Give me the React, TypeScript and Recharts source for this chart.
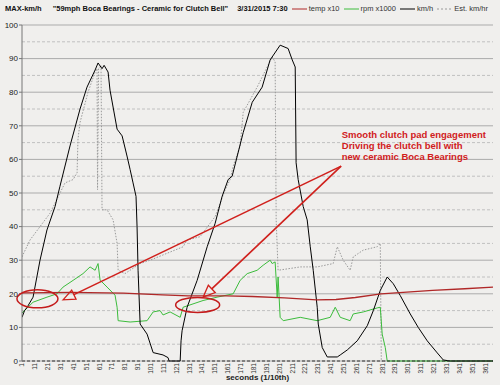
import React from 'react';
import {
  LineChart,
  Line,
  XAxis,
  YAxis,
  CartesianGrid,
  ReferenceLine,
  ReferenceDot,
} from 'recharts';

// sample index (1/10 s) and value for each trace
const kmhX = [1, 3, 5, 9.6, 15, 20.4, 26.7, 30.5, 38.3, 46.1, 51.5, 57.8, 60.1, 63.2, 64.8, 67.9, 69.4, 74.9, 78.8, 82.6, 85, 87.3, 89.6, 90.4, 91.2, 92.8, 98.2, 102.9, 110.6, 114.5, 115.3, 123.9, 124.6, 125.4, 129.3, 137.1, 144.9, 151.1, 156.5, 161.2, 164.3, 172.9, 179.9, 187.6, 193.8, 201.6, 207.8, 211, 213.3, 214, 215.6, 219.5, 222.6, 225, 227.3, 230.4, 231.2, 234.3, 238.2, 246, 248.3, 253.8, 261.5, 269.3, 274, 279.4, 284.8, 289.5, 294.9, 302.7, 308.9, 315.9, 323.7, 328.4, 333.8, 367];
const kmhY = [13, 15, 16, 19, 30, 39, 46, 52, 64, 75, 81.5, 86.6, 88.7, 87, 88, 86, 80.6, 69, 67, 61, 57, 53, 49, 40, 27, 11, 8, 2.5, 1.8, 1, 0, 0, 6, 9, 16, 24, 34, 41, 49, 54, 55, 68, 77, 81.5, 89.6, 94, 93, 89.6, 87.5, 59, 54, 46, 42, 34, 27, 16, 11, 4, 1.2, 1.2, 1.8, 3.3, 6, 10.5, 15, 21, 25, 23, 19.5, 14, 10, 6, 2.4, 0.3, 0, 0];

const estX = [1, 7.2, 22.8, 34.4, 40.7, 43.8, 44.5, 46.1, 52.3, 57.8, 59.3, 59.7, 60.5, 62.4, 63.2, 67.1, 71.8, 74.9, 75.7, 81, 92.8, 100.5, 126.2, 129.3, 139.4, 151.1, 158.9, 162.7, 165.1, 170.5, 172.9, 183.7, 191.5, 195.4, 197.7, 198.5, 200, 217.2, 230.4, 242.8, 246, 250.6, 256, 258.4, 266.2, 277, 279.4, 280.2, 367];
const estY = [31, 36, 44, 53, 54, 56, 66, 71, 80, 86, 87, 51, 87, 88, 45, 45, 42, 35, 27, 26, 29, 30, 34, 36, 37, 43, 51, 54, 58, 64, 74, 81.5, 87.5, 90.5, 89, 42, 27, 28, 28, 29, 34, 30, 27, 31, 33, 34, 35, 0, 0];

const rpmX = [1, 9.6, 20.4, 28.2, 32.9, 40.7, 48.4, 53.9, 57.8, 60.1, 61.7, 63.2, 67.1, 73.3, 74.9, 75.7, 85, 98.2, 102.9, 108.3, 110.6, 116.1, 123.9, 126.2, 141.7, 152.6, 165.1, 170.5, 176, 183.7, 188.4, 193.8, 195.4, 197.7, 199.3, 200, 201.6, 204, 217.2, 230.4, 240.5, 244.4, 248.3, 256, 258.4, 266.2, 277, 279.4, 280.9, 283.3, 284.8, 367];
const rpmY = [14.3, 17.5, 19, 20, 22, 24, 26, 28, 27, 29, 24, 23.5, 22, 19.6, 16, 12, 11.6, 12, 14.6, 15, 13.7, 14.6, 13, 16, 18, 19, 20, 24, 26, 27, 28.5, 30, 29, 29.5, 19, 25, 13, 12, 13, 12, 13, 16, 13, 12, 14, 14.6, 15.8, 16, 8, 4, 0, 0];

const tempX = [1, 40, 80, 110, 130, 160, 180, 205, 230, 245, 260, 280, 300, 320, 345, 367];
const tempY = [20.3, 20.4, 20.2, 19.7, 19.4, 19.4, 19.2, 18.8, 18.2, 18.3, 18.9, 20, 20.5, 21, 21.5, 22];

const xTicks = [1, 11, 21, 31, 41, 51, 61, 71, 81, 91, 101, 111, 121, 131, 141, 151, 161, 171, 181, 191, 201, 211, 221, 231, 241, 251, 261, 271, 281, 291, 301, 311, 321, 331, 341, 351, 361];
const yTicks = [0, 10, 20, 30, 40, 50, 60, 70, 80, 90, 100];
const yMinor = [5, 15, 25, 35, 45, 55, 65, 75, 85, 95];

const noteLines = ['Smooth clutch pad engagement', 'Driving the clutch bell with', 'new ceramic Boca Bearings'];

const BG = '#f0efed';
const NOTE_RED = '#d0201c';

const series = [
  { name: 'Est. km/hr', xs: estX, ys: estY, color: '#9a9a9a', width: 1, dash: '1.5 1.5' },
  { name: 'rpm x1000', xs: rpmX, ys: rpmY, color: '#3cbc3c', width: 1, dash: undefined },
  { name: 'km/h', xs: kmhX, ys: kmhY, color: '#000000', width: 1, dash: undefined },
  { name: 'temp x10', xs: tempX, ys: tempY, color: '#b02828', width: 1.3, dash: undefined },
];

const legendOrder = ['temp x10', 'rpm x1000', 'km/h', 'Est. km/hr'];

function toPoints(xs: number[], ys: number[]) {
  return xs.map((x, i) => ({ x, y: ys[i] }));
}

function XTick({ x, y, payload }: any) {
  return (
    <text
      x={x}
      y={y}
      dy={2.3}
      transform={`rotate(-90 ${x} ${y})`}
      textAnchor="end"
      fontSize={6.5}
      fill="#333"
    >
      {payload.value}
    </text>
  );
}

// red arrow with an open triangle head at (x2, y2)
function Arrow(props: any) {
  const { x1, y1, x2, y2 } = props;
  const dx = x2 - x1;
  const dy = y2 - y1;
  const len = Math.sqrt(dx * dx + dy * dy);
  const ux = dx / len;
  const uy = dy / len;
  const bx = x2 - ux * 12;
  const by = y2 - uy * 12;
  const px = -uy * 5;
  const py = ux * 5;
  return (
    <g>
      <line x1={x1} y1={y1} x2={bx} y2={by} stroke={NOTE_RED} strokeWidth={1.6} />
      <polygon
        points={`${x2},${y2} ${bx + px},${by + py} ${bx - px},${by - py}`}
        fill="none"
        stroke={NOTE_RED}
        strokeWidth={1.3}
      />
    </g>
  );
}

function Ring(rx: number, ry: number) {
  return (props: any) => (
    <ellipse cx={props.cx} cy={props.cy} rx={rx} ry={ry} fill="none" stroke="#c41c1c" strokeWidth={1.5} />
  );
}

function Note(props: any) {
  return (
    <text x={props.cx} y={props.cy} fontSize={9.5} fontWeight="bold" fill={NOTE_RED}>
      {noteLines.map((l, i) => (
        <tspan key={i} x={props.cx} dy={i === 0 ? 0 : 11}>
          {l}
        </tspan>
      ))}
    </text>
  );
}

export default function App() {
  return (
    <div
      style={{
        position: 'absolute',
        left: 0,
        top: 0,
        width: 500,
        height: 385,
        background: BG,
        fontFamily: '"Liberation Sans", Arial, sans-serif',
      }}
    >
      <div
        style={{
          position: 'absolute',
          top: 4,
          left: 5,
          display: 'flex',
          alignItems: 'center',
          fontSize: 7.5,
          lineHeight: '10px',
          color: '#111',
          whiteSpace: 'nowrap',
        }}
      >
        <span style={{ fontWeight: 'bold', marginRight: 11 }}>MAX-km/h</span>
        <span style={{ fontWeight: 'bold', marginRight: 9 }}>"59mph Boca Bearings - Ceramic for Clutch Bell"</span>
        <span style={{ fontWeight: 'bold', marginRight: 4 }}>3/31/2015 7:30</span>
        {legendOrder.map((n) => {
          const s = series.find((v) => v.name === n)!;
          return (
            <span key={n} style={{ display: 'flex', alignItems: 'center', marginRight: 4, color: '#333' }}>
              <svg width={15} height={4} style={{ marginRight: 2 }}>
                <line x1={0} y1={2} x2={15} y2={2} stroke={s.color} strokeWidth={1} strokeDasharray={s.dash ? '2 2' : undefined} />
              </svg>
              {n}
            </span>
          );
        })}
      </div>
      <LineChart width={500} height={385} margin={{ top: 25, right: 7, left: 0, bottom: 0 }}>
        <CartesianGrid horizontal vertical={false} stroke="#ababab" />
        {yMinor.map((v) => (
          <ReferenceLine key={v} y={v} stroke="#c0c0c0" strokeDasharray="3 2" />
        ))}
        <XAxis
          type="number"
          dataKey="x"
          domain={[1, 367]}
          ticks={xTicks}
          interval={0}
          allowDataOverflow
          height={24}
          tickLine={false}
          tickSize={1}
          tickMargin={1}
          axisLine={{ stroke: '#333', strokeDasharray: '3 2' }}
          tick={<XTick />}
          label={{ value: 'seconds (1/10th)', position: 'insideBottom', offset: 5, fontSize: 8, fontWeight: 'bold', fill: '#222' }}
        />
        <YAxis
          type="number"
          domain={[0, 100]}
          ticks={yTicks}
          width={22}
          tickSize={3}
          tickMargin={1}
          tick={{ fontSize: 8, fill: '#222' }}
          axisLine={{ stroke: '#777' }}
          tickLine={{ stroke: '#777' }}
        />
        {series.map((s) => (
          <Line
            key={s.name}
            data={toPoints(s.xs, s.ys)}
            dataKey="y"
            name={s.name}
            type="linear"
            stroke={s.color}
            strokeWidth={s.width}
            strokeDasharray={s.dash}
            dot={false}
            activeDot={false}
            isAnimationActive={false}
          />
        ))}
        <ReferenceDot x={13} y={18.5} r={1} ifOverflow="visible" shape={Ring(20.5, 9)} />
        <ReferenceDot x={137.5} y={16.7} r={1} ifOverflow="visible" shape={Ring(22, 7.5)} />
        <ReferenceLine segment={[{ x: 249, y: 58 }, { x: 32.9, y: 18.2 }]} ifOverflow="visible" shape={Arrow} />
        <ReferenceLine segment={[{ x: 249, y: 58 }, { x: 141.7, y: 19 }]} ifOverflow="visible" shape={Arrow} />
        <ReferenceDot x={249.5} y={66.5} r={1} ifOverflow="visible" shape={Note} />
      </LineChart>
    </div>
  );
}
